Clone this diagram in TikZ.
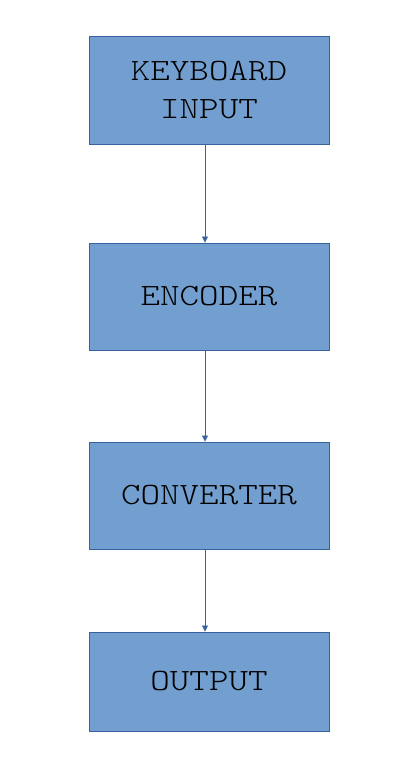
\documentclass[tikz,border=0pt]{standalone}
\usepackage{fontspec}
\newfontfamily\lmlight{Latin Modern Mono Light}
\usetikzlibrary{calc,arrows.meta}
\definecolor{boxfill}{RGB}{114,159,207}
\definecolor{boxline}{RGB}{56,98,158}
\newcommand{\wtxt}[1]{\scalebox{1.2}[1]{#1}}
\tikzset{
  blk/.style={draw=boxline, fill=boxfill, line width=0.9pt, minimum width=240pt, inner sep=0pt,
    align=center, font=\fontsize{31}{38}\selectfont\lmlight, text=black},
  conn/.style={draw=boxline, line width=0.8pt, -{Triangle[length=6pt,width=6pt]}}
}
\begin{document}
\begin{tikzpicture}[x=1pt,y=1pt]
\useasboundingbox (0,0) rectangle (405,783);
\node[blk, minimum height=108pt] (kb) at (209,{783-90}) {\wtxt{KEYBOARD}\\\wtxt{INPUT}};
\node[blk, minimum height=107pt] (enc) at (209,{783-296.5}) {\wtxt{ENCODER}};
\node[blk, minimum height=107pt] (conv) at (209,{783-495.5}) {\wtxt{CONVERTER}};
\node[blk, minimum height=99pt] (out) at (209,{783-681.5}) {\wtxt{OUTPUT}};
\draw[conn] ($(kb.south)+(-4,0)$) -- ($(enc.north)+(-4,0)$);
\draw[conn] ($(enc.south)+(-4,0)$) -- ($(conv.north)+(-4,0)$);
\draw[conn] ($(conv.south)+(-4,0)$) -- ($(out.north)+(-4,0)$);
\end{tikzpicture}
\end{document}
